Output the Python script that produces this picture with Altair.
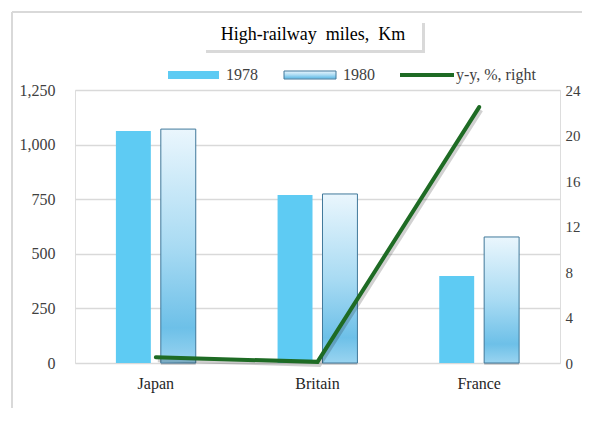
import altair as alt
import pandas as pd

countries = ["Japan", "Britain", "France"]
years = ["1978", "1980"]
km_1978 = [1062, 769, 398]
km_1980 = [1071, 774, 577]
yy_pct = [0.5, 0.1, 22.5]

left_ticks = [0, 250, 500, 750, 1000, 1250]
right_ticks = [0, 4, 8, 12, 16, 20, 24]

FONT = "Liberation Serif"
TXT = "#404040"
FS = 16

df78 = pd.DataFrame({"Country": countries, "Year": "1978", "Km": km_1978})
df80 = pd.DataFrame({"Country": countries, "Year": "1980", "Km": km_1980})
dfl = pd.DataFrame({"Country": countries, "Pct": yy_pct})
one = pd.DataFrame({"a": [0]})

xenc = alt.X("Country:N", sort=countries,
             scale=alt.Scale(paddingInner=0.506, paddingOuter=0.253),
             axis=alt.Axis(title=None, labelAngle=0, ticks=False, domain=False,
                           labelFont=FONT, labelFontSize=FS, labelColor="#262626",
                           labelPadding=12))
xoff = alt.XOffset("Year:N", scale=alt.Scale(domain=years, paddingInner=0.222, paddingOuter=0))
yscale = alt.Scale(domain=[0, 1250], nice=False)
yaxis = alt.Axis(title=None, values=left_ticks, format=",.0f", ticks=False, domain=False,
                 labelFont=FONT, labelFontSize=FS, labelColor=TXT, labelPadding=20,
                 gridColor="#d9d9d9", gridWidth=1.5)

grad = alt.LinearGradient(
    gradient="linear", x1=0, x2=0, y1=0, y2=1,
    stops=[alt.GradientStop(offset=0, color="#eaf6fd"),
           alt.GradientStop(offset=0.5, color="#a9dbf3"),
           alt.GradientStop(offset=0.85, color="#6dc0e8"),
           alt.GradientStop(offset=1, color="#9ad4f0")])

b78 = alt.Chart(df78).mark_bar(color="#5ecbf3").encode(
    x=xenc, xOffset=xoff, y=alt.Y("Km:Q", scale=yscale, axis=yaxis))
b80_shadow = alt.Chart(df80).mark_bar(color="#000000", opacity=0.15, xOffset=3, yOffset=2).encode(
    x=xenc, xOffset=xoff, y=alt.Y("Km:Q", scale=yscale, axis=yaxis))
b80 = alt.Chart(df80).mark_bar(fill=grad, stroke="#41799b", strokeWidth=1).encode(
    x=xenc, xOffset=xoff, y=alt.Y("Km:Q", scale=yscale, axis=yaxis))
bars = alt.layer(b78, b80_shadow, b80)

rscale = alt.Scale(domain=[0, 24], nice=False)
raxis = alt.Axis(title=None, orient="right", values=right_ticks, ticks=False, domain=False,
                 grid=False, labelFont=FONT, labelFontSize=15, labelColor=TXT, labelPadding=5)
l_shadow = alt.Chart(dfl).mark_line(color="#000000", opacity=0.18, strokeWidth=4, xOffset=2, yOffset=3).encode(
    x=alt.X("Country:N", sort=countries), y=alt.Y("Pct:Q", scale=rscale, axis=raxis))
line = alt.Chart(dfl).mark_line(color="#1e6b24", strokeWidth=4, strokeCap="round").encode(
    x=alt.X("Country:N", sort=countries), y=alt.Y("Pct:Q", scale=rscale, axis=raxis))
lines = alt.layer(l_shadow, line)

# frame
frame_l = alt.Chart(one).mark_rule(color="#d9d9d9", strokeWidth=2).encode(
    x=alt.value(-63), y=alt.value(-78), y2=alt.value(340))
frame_t = alt.Chart(one).mark_rule(color="#d9d9d9", strokeWidth=2).encode(
    x=alt.value(-63), x2=alt.value(520), y=alt.value(-78))

# title box
tb_shadow = alt.Chart(one).mark_rect(color="#000000", opacity=0.15).encode(
    x=alt.value(131), x2=alt.value(350), y=alt.value(-67), y2=alt.value(-37))
tb = alt.Chart(one).mark_rect(color="#ffffff").encode(
    x=alt.value(128), x2=alt.value(347), y=alt.value(-70), y2=alt.value(-40))
tb_text = alt.Chart(one).mark_text(font=FONT, fontSize=18, color="#000000", align="center",
                                    baseline="middle").encode(
    x=alt.value(238), y=alt.value(-55), text=alt.value("High-railway\u00a0\u00a0miles,\u00a0\u00a0Km"))

# legend
lg1 = alt.Chart(one).mark_rect(color="#5ecbf3").encode(
    x=alt.value(93), x2=alt.value(144), y=alt.value(-19), y2=alt.value(-11))
lg1t = alt.Chart(one).mark_text(font=FONT, fontSize=FS, color=TXT, align="left", baseline="middle").encode(
    x=alt.value(151), y=alt.value(-15), text=alt.value("1978"))
lg2 = alt.Chart(one).mark_rect(fill=grad, stroke="#41799b", strokeWidth=1).encode(
    x=alt.value(209), x2=alt.value(261), y=alt.value(-19), y2=alt.value(-11))
lg2t = alt.Chart(one).mark_text(font=FONT, fontSize=FS, color=TXT, align="left", baseline="middle").encode(
    x=alt.value(268), y=alt.value(-15), text=alt.value("1980"))
lg3 = alt.Chart(one).mark_rule(color="#1e6b24", strokeWidth=4).encode(
    x=alt.value(325), x2=alt.value(379), y=alt.value(-15))
lg3t = alt.Chart(one).mark_text(font=FONT, fontSize=FS, color=TXT, align="left", baseline="middle").encode(
    x=alt.value(381), y=alt.value(-15), text=alt.value("y-y, %, right"))

chart = alt.layer(
    frame_l, frame_t, bars, lines, tb_shadow, tb, tb_text, lg1, lg1t, lg2, lg2t, lg3, lg3t
).resolve_scale(y="independent").properties(
    width=485, height=273,
    autosize=alt.AutoSizeParams(type="none"),
    padding={"left": 67, "top": 82, "right": 22, "bottom": 45},
).configure_view(stroke=None).configure(background="#ffffff")

chart.save("out.html", embed_options={"renderer": "svg", "actions": False})
